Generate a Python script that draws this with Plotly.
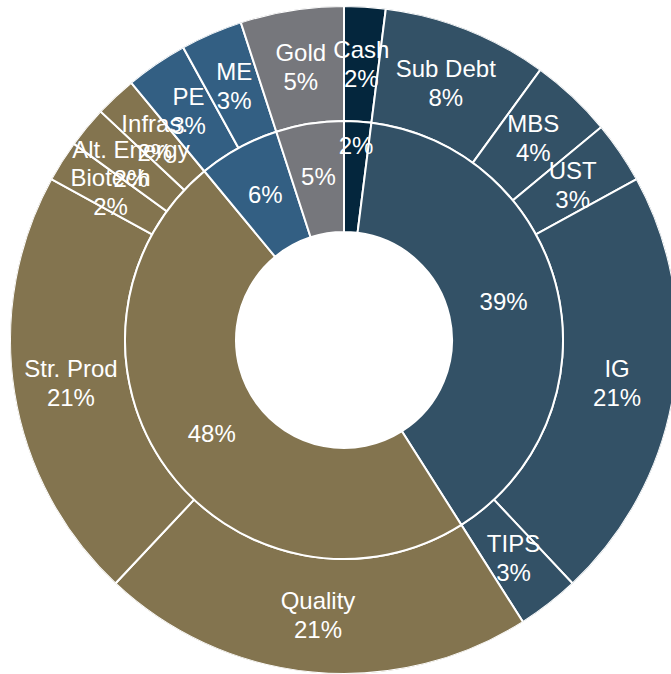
import numpy as np
import plotly.graph_objects as go

# ---- data ----
groups = ["Cash", "Fixed Income", "Alternatives", "Private", "Gold"]
group_values = [2, 39, 48, 6, 5]

sub_labels = ["Cash", "Sub Debt", "MBS", "UST", "IG", "TIPS",
              "Quality", "Str. Prod", "Biotech", "Alt. Energy", "Infras.",
              "PE", "ME", "Gold"]
sub_values = [2, 8, 4, 3, 21, 3, 21, 21, 2, 2, 2, 3, 3, 5]
sub_groups = ["Cash", "Fixed Income", "Fixed Income", "Fixed Income", "Fixed Income",
              "Fixed Income", "Alternatives", "Alternatives", "Alternatives",
              "Alternatives", "Alternatives", "Private", "Private", "Gold"]

# ---- styles ----
palette = {
    "Cash": "#04263d",
    "Fixed Income": "#335166",
    "Alternatives": "#83744f",
    "Private": "#335f83",
    "Gold": "#76777c",
}
# radial nudge (px) of individual inner-ring labels
inner_label_nudge = {"Cash": 29}

FONT = "Liberation Sans, Arial, sans-serif"
FS = 24

W, H = 688, 674
ML, MR, MT, MB = 0, 0, 6, 0
R_OUT = 334.0
R_MID = 219.0
R_IN = 108.0


def angles(vals):
    v = np.asarray(vals, dtype=float)
    frac = v / v.sum()
    widths = frac * 360.0
    mids = (np.cumsum(frac) - frac / 2) * 360.0
    return mids.tolist(), widths.tolist()


sub_theta, sub_width = angles(sub_values)
grp_theta, grp_width = angles(group_values)

fig = go.Figure()

# outer ring
fig.add_trace(go.Barpolar(
    theta=sub_theta, width=sub_width,
    r=[(R_OUT - R_MID) / R_OUT] * len(sub_values),
    base=[R_MID / R_OUT] * len(sub_values),
    marker=dict(color=[palette[g] for g in sub_groups],
                line=dict(color="white", width=2)),
    text=sub_labels, hoverinfo="text", showlegend=False,
))
# inner ring
fig.add_trace(go.Barpolar(
    theta=grp_theta, width=grp_width,
    r=[(R_MID - R_IN) / R_OUT] * len(group_values),
    base=[R_IN / R_OUT] * len(group_values),
    marker=dict(color=[palette[g] for g in groups],
                line=dict(color="white", width=2)),
    text=groups, hoverinfo="text", showlegend=False,
))

tf = dict(family=FONT, size=FS, color="white")
r_outer_lbl = (R_MID + R_OUT) / 2 / R_OUT
r_inner_lbl = [((R_IN + R_MID) / 2 + inner_label_nudge.get(g, 0)) / R_OUT for g in groups]
clear = dict(color="rgba(0,0,0,0)", size=6.4)

# outer labels: name line above, value line below
fig.add_trace(go.Scatterpolar(
    theta=sub_theta, r=[r_outer_lbl] * len(sub_values),
    mode="text", text=sub_labels, textposition="top center",
    textfont=tf, hoverinfo="skip", showlegend=False,
))
fig.add_trace(go.Scatterpolar(
    theta=sub_theta, r=[r_outer_lbl] * len(sub_values),
    mode="markers+text", marker=clear,
    text=[f"{v}%" for v in sub_values], textposition="bottom center",
    textfont=tf, hoverinfo="skip", showlegend=False,
))
# inner labels
fig.add_trace(go.Scatterpolar(
    theta=grp_theta, r=r_inner_lbl,
    mode="text", text=[f"{v}%" for v in group_values], textposition="middle center",
    textfont=tf, hoverinfo="skip", showlegend=False,
))

fig.update_layout(
    width=W, height=H,
    margin=dict(l=ML, r=MR, t=MT, b=MB, pad=0),
    paper_bgcolor="white",
    polar=dict(
        domain=dict(x=[0, 1], y=[0, 1]),
        bgcolor="white",
        bargap=0,
        radialaxis=dict(range=[0, 1], visible=False, showgrid=False),
        angularaxis=dict(rotation=90, direction="clockwise", visible=False,
                         showgrid=False, thetaunit="degrees"),
    ),
    font=dict(family=FONT, size=FS, color="white"),
)

fig.write_html(
    "out.html",
    config={"displayModeBar": False},
    post_script="document.documentElement.style.overflow='hidden';document.body.style.overflow='hidden';document.body.style.margin='0';",
)
